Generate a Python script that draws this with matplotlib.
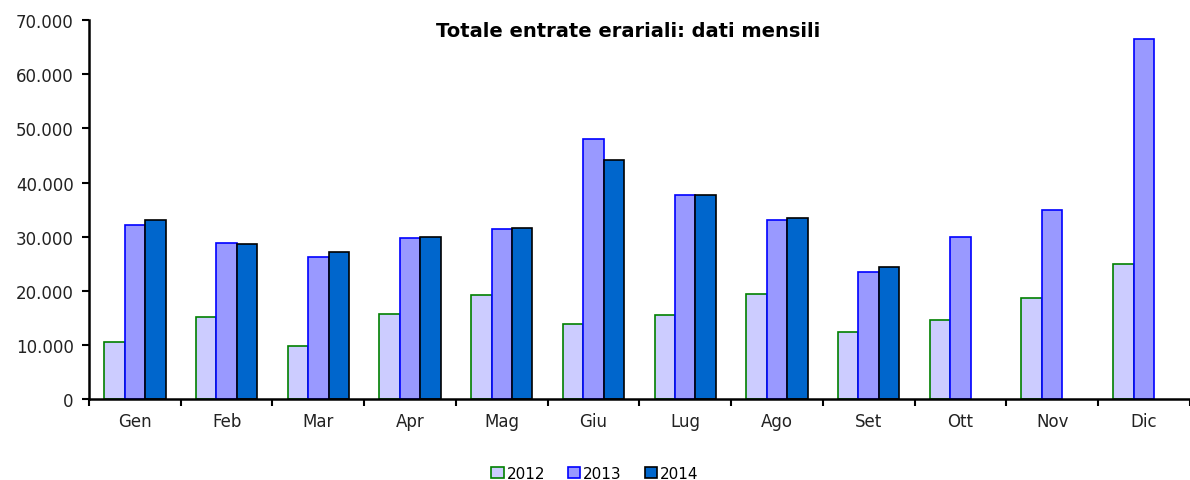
import numpy as np
import matplotlib.pyplot as plt
from matplotlib.ticker import FuncFormatter

months = ['Gen', 'Feb', 'Mar', 'Apr', 'Mag', 'Giu', 'Lug', 'Ago', 'Set', 'Ott', 'Nov', 'Dic']
v2012 = [10600, 15200, 9800, 15800, 19200, 13800, 15500, 19400, 12400, 14600, 18600, 24900]
v2013 = [32100, 28900, 26300, 29800, 31400, 48000, 37700, 33100, 23500, 30000, 34900, 66500]
v2014 = [33100, 28600, 27200, 30000, 31700, 44200, 37700, 33400, 24500]

plt.rcParams['font.family'] = 'DejaVu Sans'

fig = plt.figure(figsize=(11.9, 4.81), dpi=100)
ax = fig.add_axes([0.0748, 0.168, 0.925, 0.788])

x = np.arange(len(months))
w = 0.223
ax.bar(x - w, v2012, w, color='#CCCCFF', edgecolor='#008000', linewidth=1.2, label='2012')
ax.bar(x, v2013, w, color='#9999FF', edgecolor='#0000FF', linewidth=1.2, label='2013')
ax.bar(x[:len(v2014)] + w, v2014, w, color='#0066CC', edgecolor='black', linewidth=1.2, label='2014')

ax.set_xlim(-0.5, len(months) - 0.5)
ax.set_ylim(0, 70000)
ax.set_yticks(np.arange(0, 70001, 10000))
ax.yaxis.set_major_formatter(FuncFormatter(lambda v, p: '0' if v == 0 else f'{int(v):,}'.replace(',', '.')))

ax.set_xticks(np.arange(-0.5, len(months), 1.0))
ax.set_xticklabels([])
ax.set_xticks(x, minor=True)
ax.set_xticklabels(months, minor=True)
ax.tick_params(axis='x', which='minor', length=0, labelsize=12, pad=9, labelcolor='#222222')
ax.tick_params(axis='x', which='major', length=5, width=1.5, direction='out')
ax.tick_params(axis='y', length=5, width=1.5, labelsize=12, pad=6, labelcolor='#222222')

for s in ['top', 'right']:
    ax.spines[s].set_visible(False)
for s in ['left', 'bottom']:
    ax.spines[s].set_linewidth(1.8)

ax.set_title('Totale entrate erariali: dati mensili', fontsize=14, fontweight='bold', y=0.935, x=0.49)

fig.legend(loc='lower center', bbox_to_anchor=(0.5, -0.03), ncol=3, frameon=False,
           fontsize=11, handlelength=0.8, handleheight=0.8, handletextpad=0.2, columnspacing=1.5)

fig.savefig('out.png', dpi=100)
